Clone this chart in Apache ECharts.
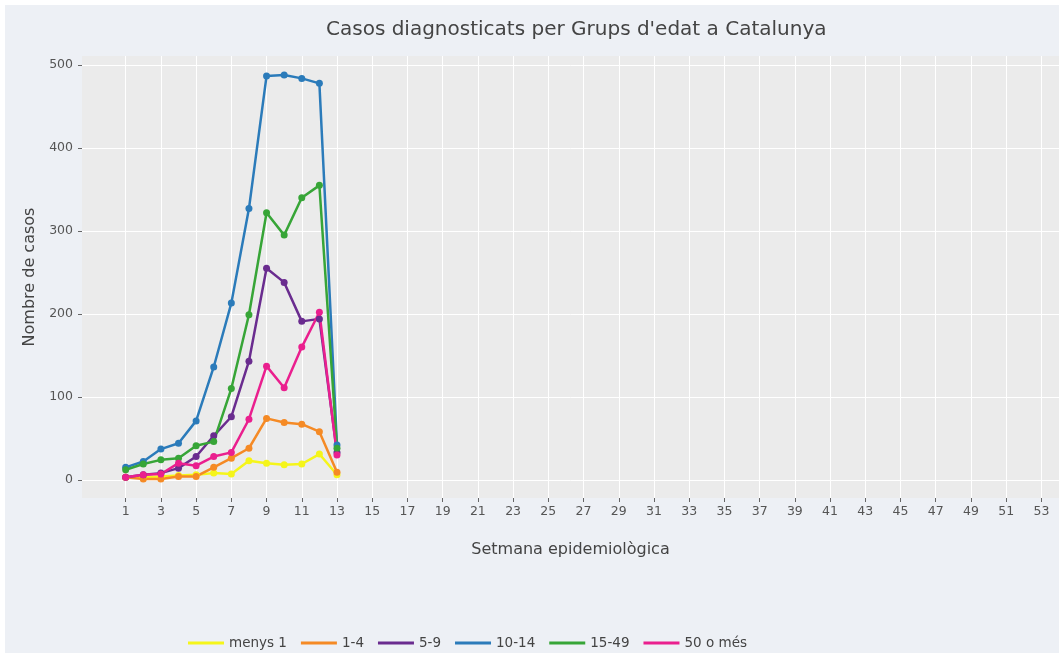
<!DOCTYPE html>
<html>
<head>
<meta charset="utf-8">
<script src="https://cdn.jsdelivr.net/npm/echarts@6/dist/echarts.min.js"></script>
<style>
  html, body { margin: 0; padding: 0; background: #fff; }
  #echarts { position: absolute; left: 5px; top: 5px; width: 1054px; height: 648px; }
</style>
</head>
<body>
<div id="echarts"></div>
<script>
// setmanes epidemiològiques
const weeks = [1, 2, 3, 4, 5, 6, 7, 8, 9, 10, 11, 12, 13];
const xTicks = [1, 3, 5, 7, 9, 11, 13, 15, 17, 19, 21, 23, 25, 27, 29, 31, 33, 35, 37, 39, 41, 43, 45, 47, 49, 51, 53];
const yTicks = [0, 100, 200, 300, 400, 500];

// casos per grup d'edat (llegits del gràfic)
const menys1 = [3, 3, 4, 5, 6, 8, 7, 23, 20, 18, 19, 31, 6];
const g1_4 = [3, 1, 1, 4, 4, 15, 26, 38, 74, 69, 67, 58, 9];
const g5_9 = [3, 6, 8, 14, 28, 53, 76, 143, 255, 238, 191, 194, 33];
const g10_14 = [15, 22, 37, 44, 71, 136, 213, 327, 487, 488, 484, 478, 42];
const g15_49 = [12, 19, 24, 26, 41, 46, 110, 199, 322, 295, 340, 355, 38];
const g50 = [3, 6, 7, 20, 17, 28, 33, 73, 137, 111, 160, 202, 30];

const names = ['menys 1', '1-4', '5-9', '10-14', '15-49', '50 o més'];
const colors = ['#f5f51a', '#f58a25', '#6a2c8f', '#2b7bba', '#37a537', '#ea1f8e'];
const values = [menys1, g1_4, g5_9, g10_14, g15_49, g50];

const font = 'DejaVu Sans, Verdana, sans-serif';

const mycharts = echarts.init(document.getElementById('echarts'), null, { renderer: 'canvas' });

const option = {
    backgroundColor: '#edf0f5',
    animation: false,
    title: {
        text: "Casos diagnosticats per Grups d'edat a Catalunya",
        left: 316,
        top: 10,
        textStyle: { color: '#444', fontSize: 20, fontWeight: 'normal', fontFamily: font },
    },
    grid: {
        left: 77,
        top: 51,
        right: -5,
        bottom: 155,
        show: true,
        backgroundColor: '#ebebeb',
        borderWidth: 0,
        containLabel: false,
    },
    legend: {
        data: names,
        bottom: -2,
        left: 178,
        icon: 'rect',
        itemWidth: 36,
        itemHeight: 3,
        itemGap: 14,
        textStyle: { color: '#444', fontSize: 13.5, fontFamily: font },
    },
    xAxis: {
        type: 'value',
        min: -1.48,
        max: 54,
        name: 'Setmana epidemiològica',
        nameLocation: 'middle',
        nameGap: 44,
        nameTextStyle: { color: '#444', fontSize: 16, fontFamily: font },
        axisLine: { show: false, onZero: false },
        axisTick: { show: true, customValues: xTicks, length: 4, lineStyle: { color: '#666' } },
        axisLabel: { customValues: xTicks, color: '#555', fontSize: 12.5, fontFamily: font, margin: 7 },
        splitLine: { show: true, lineStyle: { color: '#fff', width: 1 } },
    },
    yAxis: {
        type: 'value',
        min: -22,
        max: 511,
        name: 'Nombre de casos',
        nameLocation: 'middle',
        nameGap: 42,
        nameTextStyle: { color: '#444', fontSize: 16, fontFamily: font },
        axisLine: { show: false, onZero: false },
        axisTick: { show: true, customValues: yTicks, length: 4, lineStyle: { color: '#666' } },
        axisLabel: { customValues: yTicks, color: '#555', fontSize: 12.5, fontFamily: font, margin: 9 },
        splitLine: { show: true, lineStyle: { color: '#fff', width: 1 } },
    },
    series: names.map((n, i) => ({
        name: n,
        type: 'line',
        data: weeks.map((w, j) => [w, values[i][j]]),
        symbol: 'circle',
        symbolSize: 7,
        lineStyle: { color: colors[i], width: 2.5 },
        itemStyle: { color: colors[i] },
    })),
};
mycharts.setOption(option);
</script>
</body>
</html>
